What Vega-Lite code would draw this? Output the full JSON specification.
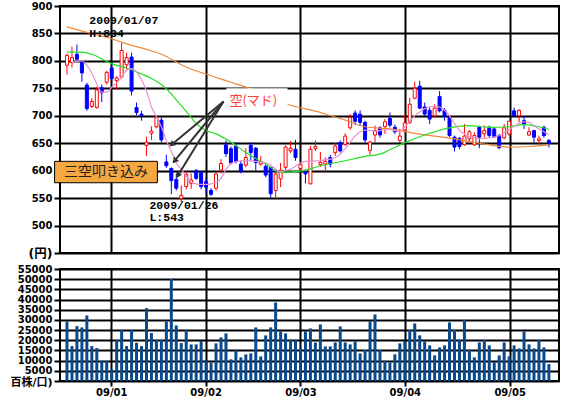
{
"$schema": "https://vega.github.io/schema/vega-lite/v6.json",
"background": "white",
"padding": {"left": 0, "top": 0, "right": 2, "bottom": 0},
"spacing": 16,
"bounds": "flush",
"config": {
 "view": {"stroke": "black", "strokeWidth": 2},
 "axis": {"labelFont": "DejaVu Sans, Noto Sans CJK JP", "labelFontWeight": "bold", "labelFontSize": 10, "labelColor": "black", "labelOverlap": false, "gridColor": "black", "gridWidth": 2, "gridOpacity": 1, "tickColor": "black", "tickWidth": 2, "domain": false, "title": null}
},
"datasets": {
 "k": [
{"i":0,"o":792,"h":813,"l":775,"c":810,"v":29250},{"i":1,"o":797,"h":826,"l":788,"c":806,"v":17150},{"i":2,"o":812,"h":830,"l":801,"c":803,"v":26960},{"i":3,"o":798,"h":801,"l":762,"c":778,"v":26300},{"i":4,"o":756,"h":760,"l":709,"c":713,"v":32190},{"i":5,"o":717,"h":732,"l":714,"c":726,"v":17150},{"i":6,"o":715,"h":753,"l":713,"c":747,"v":16180},{"i":7,"o":751,"h":757,"l":725,"c":742,"v":9970},{"i":8,"o":761,"h":782,"l":757,"c":779,"v":9970},{"i":9,"o":787,"h":797,"l":763,"c":768,"v":5720},
{"i":10,"o":764,"h":772,"l":747,"c":769,"v":20260},{"i":11,"o":771,"h":834,"l":768,"c":819,"v":25000},{"i":12,"o":793,"h":815,"l":782,"c":806,"v":17150},{"i":13,"o":807,"h":815,"l":737,"c":745,"v":25000},{"i":14,"o":715,"h":724,"l":701,"c":706,"v":18790},{"i":15,"o":703,"h":709,"l":691,"c":700,"v":17150},{"i":16,"o":646,"h":662,"l":627,"c":652,"v":35780},{"i":17,"o":668,"h":681,"l":656,"c":672,"v":23530},{"i":18,"o":680,"h":700,"l":677,"c":697,"v":20260},{"i":19,"o":692,"h":697,"l":651,"c":656,"v":20260},
{"i":20,"o":616,"h":629,"l":605,"c":609,"v":29250},{"i":21,"o":604,"h":606,"l":557,"c":582,"v":50160},{"i":22,"o":584,"h":594,"l":564,"c":568,"v":27290},{"i":23,"o":549,"h":573,"l":543,"c":555,"v":18630},{"i":24,"o":571,"h":598,"l":566,"c":593,"v":25000},{"i":25,"o":577,"h":595,"l":567,"c":583,"v":17970},{"i":26,"o":600,"h":603,"l":583,"c":586,"v":17970},{"i":27,"o":597,"h":599,"l":566,"c":571,"v":19610},{"i":28,"o":580,"h":586,"l":558,"c":570,"v":9970},{"i":29,"o":564,"h":568,"l":554,"c":557,"v":8990},
{"i":30,"o":568,"h":597,"l":564,"c":594,"v":18460},{"i":31,"o":601,"h":621,"l":595,"c":613,"v":21400},{"i":32,"o":647,"h":655,"l":625,"c":631,"v":23370},{"i":33,"o":640,"h":644,"l":611,"c":614,"v":10620},{"i":34,"o":645,"h":652,"l":613,"c":617,"v":15030},{"i":35,"o":612,"h":618,"l":595,"c":599,"v":11600},{"i":36,"o":610,"h":641,"l":606,"c":624,"v":13070},{"i":37,"o":646,"h":652,"l":618,"c":633,"v":13560},{"i":38,"o":641,"h":643,"l":600,"c":615,"v":26310},{"i":39,"o":612,"h":627,"l":609,"c":617,"v":12090},
{"i":40,"o":608,"h":612,"l":588,"c":592,"v":22390},{"i":41,"o":606,"h":607,"l":551,"c":558,"v":26310},{"i":42,"o":564,"h":600,"l":547,"c":594,"v":38560},{"i":43,"o":585,"h":614,"l":570,"c":601,"v":24350},{"i":44,"o":606,"h":646,"l":600,"c":643,"v":23370},{"i":45,"o":636,"h":654,"l":632,"c":641,"v":20260},{"i":46,"o":639,"h":656,"l":618,"c":624,"v":20260},{"i":47,"o":604,"h":615,"l":600,"c":611,"v":16010},{"i":48,"o":598,"h":602,"l":577,"c":594,"v":24350},{"i":49,"o":576,"h":645,"l":575,"c":639,"v":25820},
{"i":50,"o":640,"h":655,"l":636,"c":644,"v":18950},{"i":51,"o":611,"h":634,"l":607,"c":615,"v":27780},{"i":52,"o":612,"h":624,"l":596,"c":617,"v":16990},{"i":53,"o":624,"h":629,"l":606,"c":612,"v":16990},{"i":54,"o":633,"h":650,"l":627,"c":645,"v":18950},{"i":55,"o":651,"h":655,"l":633,"c":636,"v":26800},{"i":56,"o":648,"h":668,"l":645,"c":663,"v":18950},{"i":57,"o":678,"h":703,"l":675,"c":697,"v":17970},{"i":58,"o":705,"h":710,"l":683,"c":690,"v":19440},{"i":59,"o":703,"h":710,"l":682,"c":688,"v":13560},
{"i":60,"o":688,"h":691,"l":652,"c":656,"v":15200},{"i":61,"o":637,"h":655,"l":627,"c":652,"v":29250},{"i":62,"o":665,"h":682,"l":652,"c":673,"v":32680},{"i":63,"o":678,"h":681,"l":660,"c":665,"v":15200},{"i":64,"o":680,"h":694,"l":667,"c":689,"v":9970},{"i":65,"o":695,"h":706,"l":679,"c":683,"v":9150},{"i":66,"o":679,"h":684,"l":667,"c":671,"v":13070},{"i":67,"o":655,"h":676,"l":650,"c":663,"v":18460},{"i":68,"o":674,"h":702,"l":670,"c":687,"v":19440},{"i":69,"o":688,"h":733,"l":685,"c":721,"v":25000},
{"i":70,"o":732,"h":762,"l":730,"c":750,"v":28270},{"i":71,"o":754,"h":764,"l":712,"c":714,"v":22390},{"i":72,"o":716,"h":724,"l":700,"c":703,"v":19440},{"i":73,"o":710,"h":715,"l":685,"c":694,"v":17480},{"i":74,"o":700,"h":721,"l":697,"c":714,"v":12580},{"i":75,"o":735,"h":745,"l":706,"c":709,"v":16500},{"i":76,"o":710,"h":714,"l":691,"c":700,"v":17480},{"i":77,"o":697,"h":700,"l":661,"c":664,"v":28760},{"i":78,"o":661,"h":664,"l":635,"c":643,"v":25160},{"i":79,"o":659,"h":661,"l":639,"c":644,"v":20260},
{"i":80,"o":647,"h":685,"l":645,"c":663,"v":30070},{"i":81,"o":658,"h":674,"l":654,"c":671,"v":15360},{"i":82,"o":647,"h":670,"l":645,"c":664,"v":11600},{"i":83,"o":679,"h":682,"l":641,"c":661,"v":18950},{"i":84,"o":667,"h":682,"l":660,"c":673,"v":20260},{"i":85,"o":679,"h":682,"l":660,"c":664,"v":17480},{"i":86,"o":676,"h":678,"l":660,"c":662,"v":9150},{"i":87,"o":664,"h":667,"l":639,"c":642,"v":12580},{"i":88,"o":660,"h":685,"l":657,"c":678,"v":18950},{"i":89,"o":667,"h":691,"l":663,"c":690,"v":12090},
{"i":90,"o":709,"h":715,"l":697,"c":700,"v":17480},{"i":91,"o":700,"h":712,"l":688,"c":710,"v":16010},{"i":92,"o":691,"h":700,"l":676,"c":685,"v":24350},{"i":93,"o":665,"h":679,"l":663,"c":671,"v":17970},{"i":94,"o":673,"h":674,"l":651,"c":661,"v":16010},{"i":95,"o":655,"h":664,"l":649,"c":658,"v":20260},{"i":96,"o":679,"h":682,"l":660,"c":664,"v":16500},{"i":97,"o":655,"h":658,"l":642,"c":650,"v":8330}
 ],
 "ma75": [{"i":0,"v":862},{"i":4,"v":852},{"i":8,"v":843},{"i":12,"v":831},{"i":16,"v":821},{"i":19,"v":812},{"i":24,"v":789},{"i":29,"v":773},{"i":33,"v":761},{"i":37,"v":749},{"i":44,"v":722},{"i":51,"v":706},{"i":56,"v":692},{"i":60,"v":680},{"i":65,"v":676},{"i":70,"v":668},{"i":78,"v":658},{"i":83,"v":650},{"i":89,"v":643},{"i":93,"v":644},{"i":97,"v":647}],
 "ma25": [{"i":0,"v":816},{"i":3,"v":816},{"i":5,"v":812},{"i":8,"v":799},{"i":9,"v":795},{"i":12,"v":787},{"i":15,"v":776},{"i":17,"v":768},{"i":19,"v":757},{"i":21,"v":740},{"i":22,"v":729},{"i":24,"v":708},{"i":26,"v":686},{"i":28,"v":673},{"i":30,"v":667},{"i":33,"v":652},{"i":36,"v":633},{"i":40,"v":612},{"i":43,"v":597},{"i":47,"v":599},{"i":51,"v":609},{"i":56,"v":618},{"i":60,"v":626},{"i":63,"v":630},{"i":65,"v":638},{"i":68,"v":651},{"i":72,"v":665},{"i":77,"v":678},{"i":81,"v":682},{"i":85,"v":679},{"i":89,"v":680},{"i":92,"v":684},{"i":95,"v":680},{"i":97,"v":675}],
 "ma5": [{"i":1,"v":797},{"i":2,"v":799},{"i":3,"v":800},{"i":4,"v":792},{"i":5,"v":778},{"i":6,"v":758},{"i":7,"v":743},{"i":8,"v":743},{"i":9,"v":752},{"i":10,"v":760},{"i":11,"v":770},{"i":12,"v":784},{"i":13,"v":786},{"i":14,"v":780},{"i":15,"v":766},{"i":16,"v":745},{"i":17,"v":716},{"i":18,"v":698},{"i":19,"v":680},{"i":20,"v":655},{"i":21,"v":635},{"i":22,"v":614},{"i":23,"v":603},{"i":24,"v":590},{"i":25,"v":579},{"i":26,"v":576},{"i":27,"v":575},{"i":28,"v":575},{"i":29,"v":576},{"i":30,"v":578},{"i":31,"v":586},{"i":32,"v":602},{"i":33,"v":613},{"i":34,"v":616},{"i":35,"v":618},{"i":36,"v":618},{"i":37,"v":618},{"i":38,"v":617},{"i":39,"v":616},{"i":40,"v":614},{"i":41,"v":610},{"i":42,"v":603},{"i":43,"v":598},{"i":44,"v":600},{"i":45,"v":603},{"i":46,"v":608},{"i":47,"v":614},{"i":48,"v":617},{"i":49,"v":618},{"i":50,"v":618},{"i":51,"v":618},{"i":52,"v":620},{"i":53,"v":621},{"i":54,"v":624},{"i":55,"v":630},{"i":56,"v":640},{"i":57,"v":652},{"i":58,"v":663},{"i":59,"v":671},{"i":60,"v":674},{"i":61,"v":673},{"i":62,"v":672},{"i":63,"v":673},{"i":64,"v":675},{"i":65,"v":675},{"i":66,"v":673},{"i":67,"v":672},{"i":68,"v":680},{"i":69,"v":690},{"i":70,"v":700},{"i":71,"v":707},{"i":72,"v":713},{"i":73,"v":716},{"i":74,"v":717},{"i":75,"v":716},{"i":76,"v":710},{"i":77,"v":700},{"i":78,"v":686},{"i":79,"v":674},{"i":80,"v":667},{"i":81,"v":662},{"i":82,"v":660},{"i":83,"v":658},{"i":84,"v":659},{"i":85,"v":660},{"i":86,"v":661},{"i":87,"v":664},{"i":88,"v":669},{"i":89,"v":675},{"i":90,"v":681},{"i":91,"v":686},{"i":92,"v":689},{"i":93,"v":688},{"i":94,"v":682},{"i":95,"v":676},{"i":96,"v":671},{"i":97,"v":665}]
},
"vconcat": [
 {
  "width": 499, "height": 247,
  "encoding": {
   "x": {"field": "i", "type": "quantitative", "scale": {"domain": [-0.4, 98.03], "nice": false, "zero": false}, "axis": {"values": [8.9, 27.9, 47, 68, 89.1], "labels": false, "ticks": false, "grid": true, "minExtent": 0, "maxExtent": 0}},
   "y": {"field": "l", "type": "quantitative", "scale": {"domain": [450, 900], "nice": false, "zero": false}, "axis": {"values": [450, 500, 550, 600, 650, 700, 750, 800, 850, 900], "labelOverlap": false, "labelExpr": "datum.value == 450 ? '(円)' : datum.label", "labelFontSize": {"condition": {"test": "datum.value == 450", "value": 12.5}, "value": 10}, "tickSize": 6, "labelPadding": 2, "minExtent": 59, "maxExtent": 59, "grid": true}}
  },
  "layer": [
   {"data": {"name": "k"}, "mark": {"type": "rule", "strokeWidth": 1},
    "encoding": {
     "y2": {"field": "h"},
     "color": {"condition": {"test": "datum.c >= datum.o", "value": "#ff0000"}, "value": "#0000ff"}
    }},
   {"data": {"name": "k"}, "mark": {"type": "bar", "size": 3, "strokeWidth": 1, "orient": "vertical"},
    "encoding": {
     "y": {"field": "o", "type": "quantitative", "scale": {"domain": [450, 900], "nice": false, "zero": false}, "axis": {"values": [450, 500, 550, 600, 650, 700, 750, 800, 850, 900], "labelOverlap": false, "labelExpr": "datum.value == 450 ? '(円)' : datum.label", "labelFontSize": {"condition": {"test": "datum.value == 450", "value": 12.5}, "value": 10}, "tickSize": 6, "labelPadding": 2, "minExtent": 59, "maxExtent": 59, "grid": true}},
     "y2": {"field": "c"},
     "fill": {"condition": {"test": "datum.c >= datum.o", "value": "#ffffff"}, "value": "#0000ff"},
     "stroke": {"condition": {"test": "datum.c >= datum.o", "value": "#ff0000"}, "value": "#0000ff"}
    }},
   {"data": {"name": "ma75"}, "mark": {"type": "line", "color": "#f08838", "strokeWidth": 1.2, "interpolate": "monotone"},
    "encoding": {"y": {"field": "v", "type": "quantitative", "scale": {"domain": [450, 900], "nice": false, "zero": false}, "axis": {"values": [450, 500, 550, 600, 650, 700, 750, 800, 850, 900], "labelOverlap": false, "labelExpr": "datum.value == 450 ? '(円)' : datum.label", "labelFontSize": {"condition": {"test": "datum.value == 450", "value": 12.5}, "value": 10}, "tickSize": 6, "labelPadding": 2, "minExtent": 59, "maxExtent": 59, "grid": true}}}},
   {"data": {"name": "ma25"}, "mark": {"type": "line", "color": "#22e022", "strokeWidth": 1.2, "interpolate": "monotone"},
    "encoding": {"y": {"field": "v", "type": "quantitative", "scale": {"domain": [450, 900], "nice": false, "zero": false}, "axis": {"values": [450, 500, 550, 600, 650, 700, 750, 800, 850, 900], "labelOverlap": false, "labelExpr": "datum.value == 450 ? '(円)' : datum.label", "labelFontSize": {"condition": {"test": "datum.value == 450", "value": 12.5}, "value": 10}, "tickSize": 6, "labelPadding": 2, "minExtent": 59, "maxExtent": 59, "grid": true}}}},
   {"data": {"name": "ma5"}, "mark": {"type": "line", "color": "#e890d0", "strokeWidth": 1.2, "interpolate": "monotone"},
    "encoding": {"y": {"field": "v", "type": "quantitative", "scale": {"domain": [450, 900], "nice": false, "zero": false}, "axis": {"values": [450, 500, 550, 600, 650, 700, 750, 800, 850, 900], "labelOverlap": false, "labelExpr": "datum.value == 450 ? '(円)' : datum.label", "labelFontSize": {"condition": {"test": "datum.value == 450", "value": 12.5}, "value": 10}, "tickSize": 6, "labelPadding": 2, "minExtent": 59, "maxExtent": 59, "grid": true}}}},
   {"data": {"values": [{"i": 32.1, "i2": 44.4, "l": 712, "l2": 750}]}, "mark": {"type": "rect", "fill": "white"},
    "encoding": {"x2": {"field": "i2"}, "y2": {"field": "l2"}}},
   {"data": {"values": [{"i": 32.7, "l": 727, "t": "空(マド)"}]}, "mark": {"type": "text", "align": "left", "baseline": "middle", "font": "Noto Sans CJK JP", "fontSize": 13, "color": "#ff3b3b"},
    "encoding": {"text": {"field": "t"}}},
   {"data": {"values": [{"i": 31.5, "l": 726, "i2": 20.8, "l2": 645.5}, {"i": 31.5, "l": 726, "i2": 21.4, "l2": 615}, {"i": 31.5, "l": 726, "i2": 22.1, "l2": 588}]}, "mark": {"type": "rule", "color": "#333333", "strokeWidth": 2},
    "encoding": {"x2": {"field": "i2"}, "y2": {"field": "l2"}}},
   {"data": {"values": [{"i": 21.25, "l": 649, "a": 231}, {"i": 21.8, "l": 619, "a": 220}, {"i": 22.4, "l": 592.6, "a": 212}]}, "mark": {"type": "point", "shape": "triangle", "filled": true, "color": "#333333", "size": 45, "opacity": 1},
    "encoding": {"angle": {"field": "a", "type": "quantitative", "scale": null}}},
   {"data": {"values": [{"i": -2.5, "i2": 18.2, "l": 617, "l2": 578}]}, "mark": {"type": "rect", "fill": "#f5a742", "stroke": "black", "strokeWidth": 1},
    "encoding": {"x2": {"field": "i2"}, "y2": {"field": "l2"}}},
   {"data": {"values": [{"i": 7.85, "l": 597.5, "t": "三空叩き込み"}]}, "mark": {"type": "text", "align": "center", "baseline": "middle", "font": "Noto Sans CJK JP", "fontSize": 14, "color": "#222222"},
    "encoding": {"text": {"field": "t"}}},
   {"data": {"values": [{"i": 4.5, "l": 872, "t": "2009/01/07"}, {"i": 4.5, "l": 849, "t": "H:834"}, {"i": 16.6, "l": 535, "t": "2009/01/26"}, {"i": 16.6, "l": 513, "t": "L:543"}]}, "mark": {"type": "text", "align": "left", "baseline": "middle", "font": "Liberation Mono", "fontWeight": "bold", "fontSize": 11.5, "color": "black"},
    "encoding": {"text": {"field": "t"}}}
  ]
 },
 {
  "width": 499, "height": 112,
  "data": {"name": "k"},
  "mark": {"type": "bar", "size": 3, "color": "#0a4a8c"},
  "encoding": {
   "x": {"field": "i", "type": "quantitative", "scale": {"domain": [-0.4, 98.03], "nice": false, "zero": false}, "axis": {"values": [8.9, 27.9, 47, 68, 89.1], "labelExpr": "datum.value < 20 ? '09/01' : datum.value < 40 ? '09/02' : datum.value < 60 ? '09/03' : datum.value < 80 ? '09/04' : '09/05'", "tickSize": 5, "labelPadding": 1, "grid": true}},
   "y": {"field": "v", "type": "quantitative", "scale": {"domain": [0, 55000], "nice": false}, "axis": {"values": [0, 5000, 10000, 15000, 20000, 25000, 30000, 35000, 40000, 45000, 50000, 55000], "format": "d", "labelExpr": "datum.value == 0 ? '百株/口)' : datum.label", "labelFontSize": {"condition": {"test": "datum.value == 0", "value": 11}, "value": 10}, "labelOffset": {"condition": {"test": "datum.value == 0", "value": 1.5}, "value": 0}, "tickSize": 6, "labelPadding": 2, "minExtent": 59, "maxExtent": 59, "grid": true}}
  }
 }
]
}
